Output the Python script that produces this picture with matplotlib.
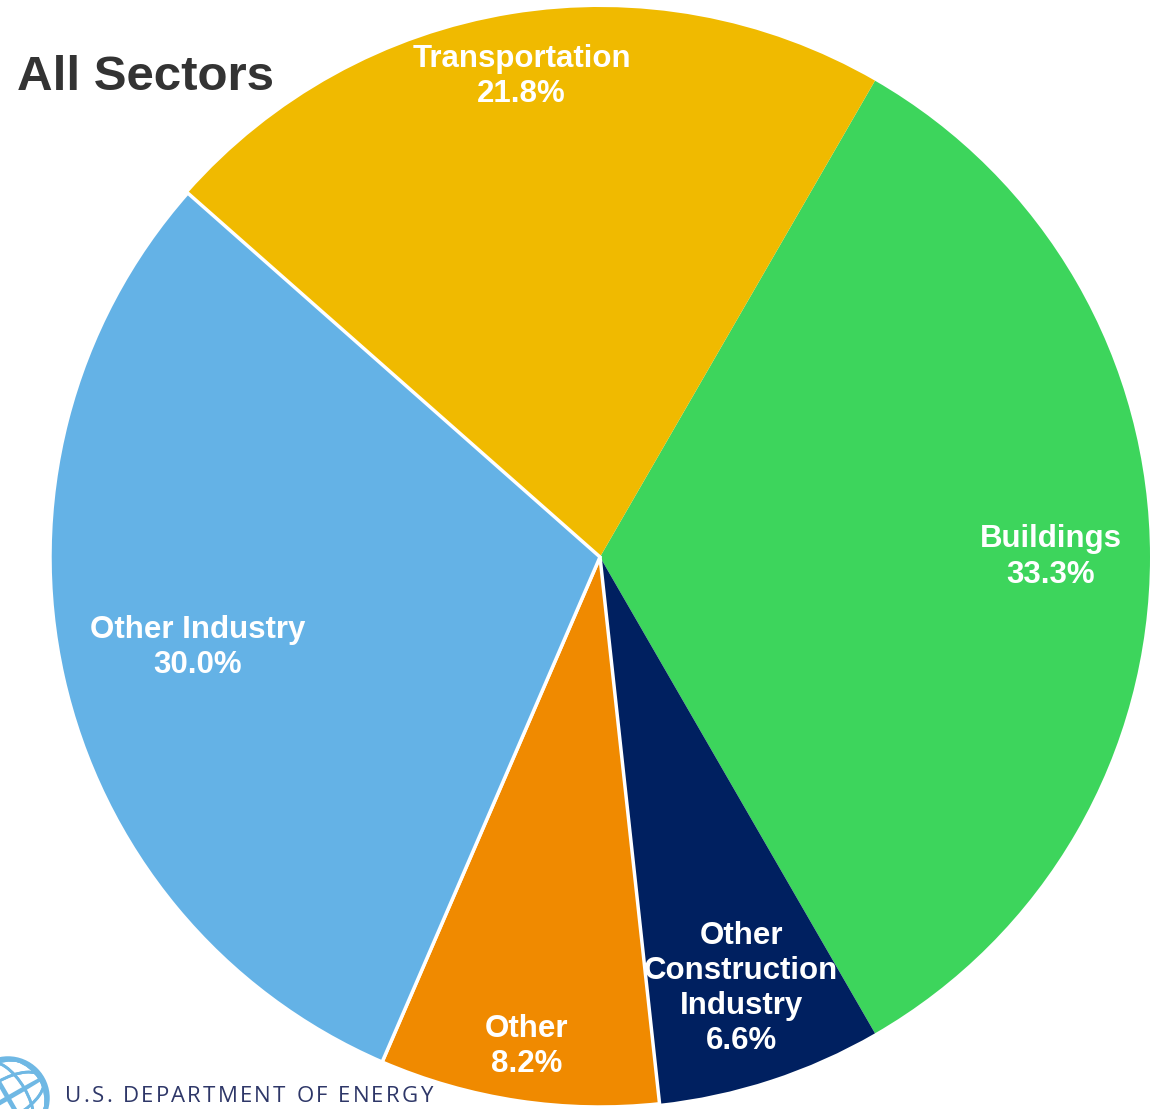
import matplotlib
matplotlib.use("Agg")
import matplotlib.pyplot as plt
import numpy as np
from matplotlib.patches import Circle, Ellipse

plt.rcParams['font.family'] = ['Liberation Sans', 'DejaVu Sans']

categories = ["Buildings", "Other\nConstruction\nIndustry", "Other", "Other Industry", "Transportation"]
shares = [33.3, 6.6, 8.2, 30.0, 21.8]
colors = ["#3DD55C", "#002060", "#F08A00", "#64B2E6", "#F0BA00"]
label_dist = [0.82, 0.825, 0.90, 0.75, 0.885]

fig = plt.figure(figsize=(11.5, 11.09), dpi=100)
ax = fig.add_axes([50/1150, 2/1109, 1100/1150, 1100/1109])
wedges, _ = ax.pie(shares, colors=colors, startangle=60, counterclock=False,
                   radius=1.0, wedgeprops=dict(linewidth=0))
ax.set_xlim(-1, 1)
ax.set_ylim(-1, 1)
ax.set_aspect('equal')
ax.axis('off')

# white separators on the Other / Other Industry slices
for i in (2, 3):
    wedges[i].set_edgecolor('white')
    wedges[i].set_linewidth(2.5)
    wedges[i].set_zorder(3)

for w, cat, val, d in zip(wedges, categories, shares, label_dist):
    ang = np.deg2rad((w.theta1 + w.theta2) / 2)
    x, y = d * np.cos(ang), d * np.sin(ang)
    ax.text(x, y, f"{cat}\n{val:.1f}%", ha='center', va='center', color='white',
            fontsize=22.5, fontweight='bold', linespacing=1.22, zorder=5)

fig.text(17/1150, 1 - 78/1109, "All Sectors", ha='left', va='center',
         fontsize=35.5, fontweight='bold', color='#333333')

# logo text with letter spacing
logo = "U.S. DEPARTMENT OF ENERGY"
fig.canvas.draw()
renderer = fig.canvas.get_renderer()
xpix = 65.0
track = 2.2
for ch in logo:
    t = fig.text(xpix / 1150, 1 - 1097 / 1109, ch, ha='left', va='center',
                 fontsize=16, color='#2E3768', family=['Open Sans', 'DejaVu Sans'])
    if ch == ' ':
        wpx = 6.5
    else:
        wpx = t.get_window_extent(renderer).width
    xpix += wpx + track

lax = fig.add_axes([0, 0, 1, 1], zorder=-1)
lax.set_xlim(0, 1150)
lax.set_ylim(1109, 0)
lax.axis('off')
cx, cy, r = 8, 1098, 40
clip = Circle((cx, cy), r, transform=lax.transData)
lax.add_patch(Circle((cx, cy), r, fill=False, ec='#6FB8E4', lw=2.5))
for k in np.linspace(-0.9, 0.9, 5):
    e = Ellipse((cx, cy), 2 * r * abs(k) + 2, 2 * r, angle=-30, fill=False, ec='#6FB8E4', lw=2)
    lax.add_patch(e)
    e.set_clip_path(clip)
    e2 = Ellipse((cx, cy), 2 * r, 2 * r * abs(k) + 2, angle=-30, fill=False, ec='#6FB8E4', lw=2)
    lax.add_patch(e2)
    e2.set_clip_path(clip)

fig.savefig("out.png", dpi=100, facecolor='white')
